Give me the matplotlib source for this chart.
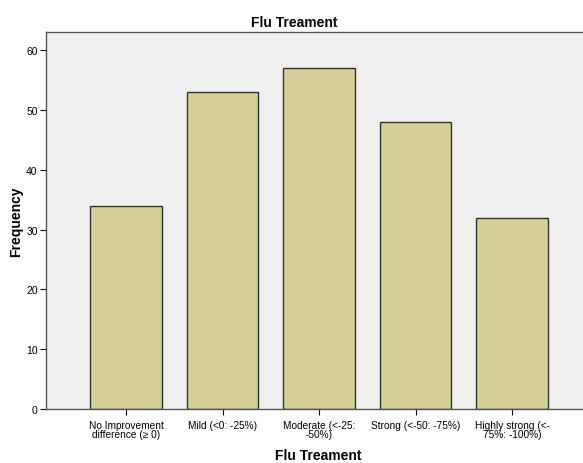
import numpy as np
import matplotlib.pyplot as plt
from matplotlib import rcParams

rcParams['font.family'] = ['Liberation Sans', 'DejaVu Sans']

# data
categories = ['No Improvement\ndifference (\u2265 0)', 'Mild (<0: -25%)',
              'Moderate (<-25:\n-50%)', 'Strong (<-50: -75%)',
              'Highly strong (<-\n75%: -100%)']
counts = [34, 53, 57, 48, 32]
y_ticks = [0, 10, 20, 30, 40, 50, 60]

fig = plt.figure(figsize=(5.83, 4.64), dpi=100)
ax = fig.add_axes([0.079, 0.116, 0.95, 0.813])
ax.set_facecolor('#f0f0f0')

x = np.arange(len(categories))
ax.bar(x, counts, width=0.74, color='#d3cf97', edgecolor='#333333', linewidth=1.0, zorder=2)

ax.set_xlim(-0.83, 4.91)
ax.set_ylim(0, 63)
ax.set_yticks(y_ticks)
ax.set_xticks(x)
ax.set_xticklabels(categories, fontsize=7.3, linespacing=0.9)
ax.tick_params(axis='y', labelsize=7.5, length=4, direction='out', pad=2)
ax.tick_params(axis='x', length=4, direction='out', pad=4)

for s in ax.spines.values():
    s.set_color('#555555')
    s.set_linewidth(1.0)
ax.spines['right'].set_visible(False)

# the plot area runs off the right edge, so centre the titles by hand
ax.set_title('Flu Treament', fontsize=10, fontweight='bold', pad=4, x=0.448)
ax.set_xlabel('Flu Treament', fontsize=10, fontweight='bold', labelpad=6)
ax.xaxis.label.set_x(0.491)
ax.set_ylabel('Frequency', fontsize=10, fontweight='bold', labelpad=2)

fig.savefig('out.png', dpi=100)
